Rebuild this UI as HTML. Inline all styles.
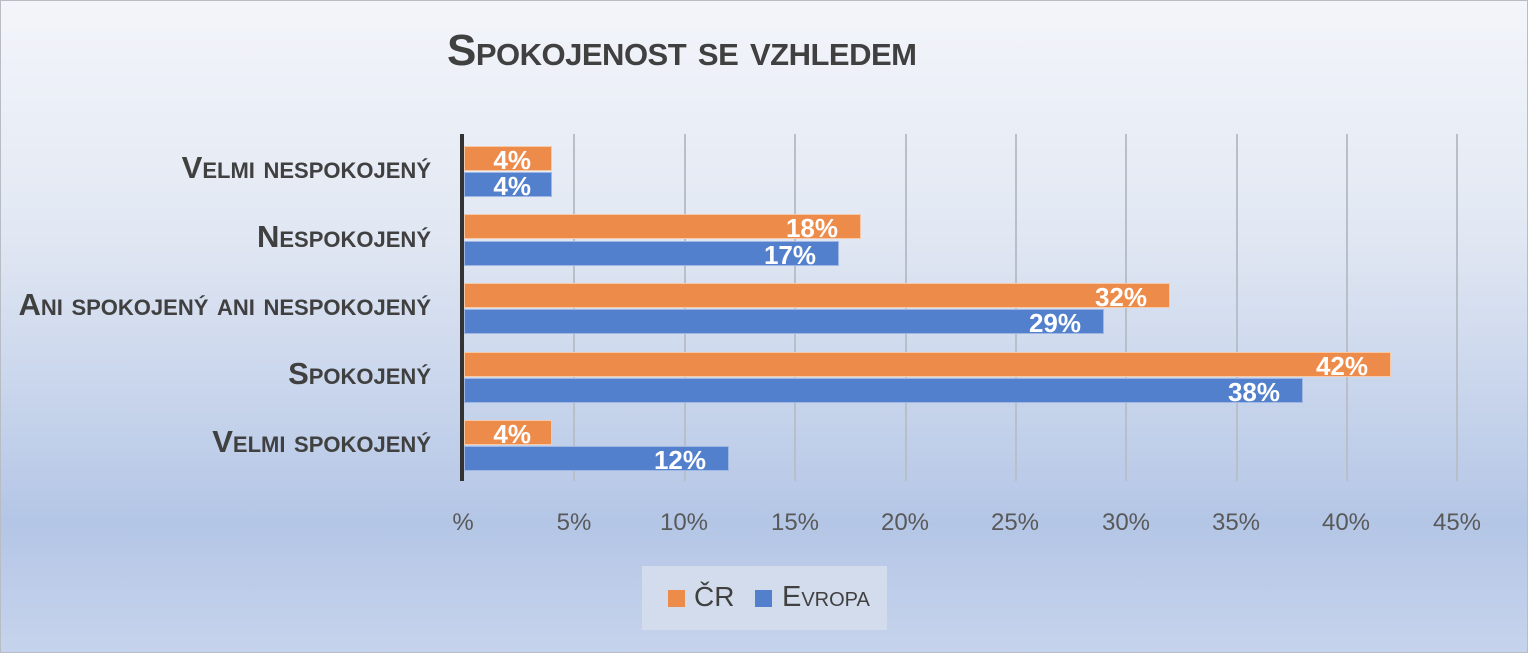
<!DOCTYPE html>
<html><head><meta charset="utf-8"><style>
body{margin:0;}
#c{position:relative;width:1526px;height:651px;border:1px solid #b8bcc4;background:linear-gradient(to bottom,#f3f5fa 0%,#e2e8f3 35%,#b4c6e6 80%,#c6d3ec 100%);overflow:hidden;font-family:"Liberation Sans",sans-serif;}
.t{position:absolute;left:446px;top:25px;font-size:44px;font-weight:bold;font-variant:small-caps;color:#404040;letter-spacing:-0.5px;}
.cat{position:absolute;right:1096px;font-size:31px;font-weight:bold;font-variant:small-caps;color:#404040;white-space:nowrap;}
.g{position:absolute;top:133px;height:347px;width:2px;background:#b9bfc9;}
.bar{position:absolute;height:25px;color:#fff;font-weight:bold;font-size:26px;text-align:right;line-height:27px;box-sizing:border-box;}
.o{background:#ed8b4b;border:1px solid #f6c9a8;}
.b{background:#5380cc;border:1px solid #9fb7e2;}
.x{position:absolute;top:508px;font-size:24px;color:#595959;transform:translateX(-50%);}
</style></head><body><div id="c">
<div class="t">Spokojenost se vzhledem</div>
<div class="g" style="left:683px"></div><div class="g" style="left:793px"></div><div class="g" style="left:904px"></div><div class="g" style="left:1014px"></div><div class="g" style="left:1124px"></div><div class="g" style="left:1235px"></div><div class="g" style="left:1345px"></div><div class="g" style="left:1455px"></div><div class="g" style="left:572px"></div>
<div style="position:absolute;left:459px;top:133px;width:4px;height:347px;background:#333"></div>

<div class="cat" style="top:149px">Velmi nespokojený</div>
<div class="cat" style="top:218px">Nespokojený</div>
<div class="cat" style="top:286px">Ani spokojený ani nespokojený</div>
<div class="cat" style="top:355px">Spokojený</div>
<div class="cat" style="top:423px">Velmi spokojený</div>

<div class="bar o" style="left:463px;top:145px;width:88px;padding-right:20px">4%</div>
<div class="bar b" style="left:463px;top:171px;width:88px;padding-right:20px">4%</div>
<div class="bar o" style="left:463px;top:213px;width:397px;padding-right:22px">18%</div>
<div class="bar b" style="left:463px;top:240px;width:375px;padding-right:22px">17%</div>
<div class="bar o" style="left:463px;top:282px;width:706px;padding-right:22px">32%</div>
<div class="bar b" style="left:463px;top:308px;width:640px;padding-right:22px">29%</div>
<div class="bar o" style="left:463px;top:351px;width:927px;padding-right:22px">42%</div>
<div class="bar b" style="left:463px;top:377px;width:839px;padding-right:22px">38%</div>
<div class="bar o" style="left:463px;top:419px;width:88px;padding-right:20px">4%</div>
<div class="bar b" style="left:463px;top:445px;width:265px;padding-right:22px">12%</div>

<div class="x" style="left:462px">%</div><div class="x" style="left:573px">5%</div><div class="x" style="left:683px">10%</div><div class="x" style="left:794px">15%</div><div class="x" style="left:904px">20%</div><div class="x" style="left:1014px">25%</div><div class="x" style="left:1125px">30%</div><div class="x" style="left:1235px">35%</div><div class="x" style="left:1345px">40%</div><div class="x" style="left:1456px">45%</div>

<div style="position:absolute;left:641px;top:565px;width:245px;height:64px;background:#d3dcec"></div>
<div style="position:absolute;left:667px;top:589px;width:17px;height:17px;background:#ed8b4b"></div>
<div style="position:absolute;left:693px;top:580px;font-size:28px;color:#404040">ČR</div>
<div style="position:absolute;left:754px;top:589px;width:17px;height:17px;background:#5380cc"></div>
<div style="position:absolute;left:781px;top:580px;font-size:29px;color:#404040;font-variant:small-caps">Evropa</div>
</div></body></html>
